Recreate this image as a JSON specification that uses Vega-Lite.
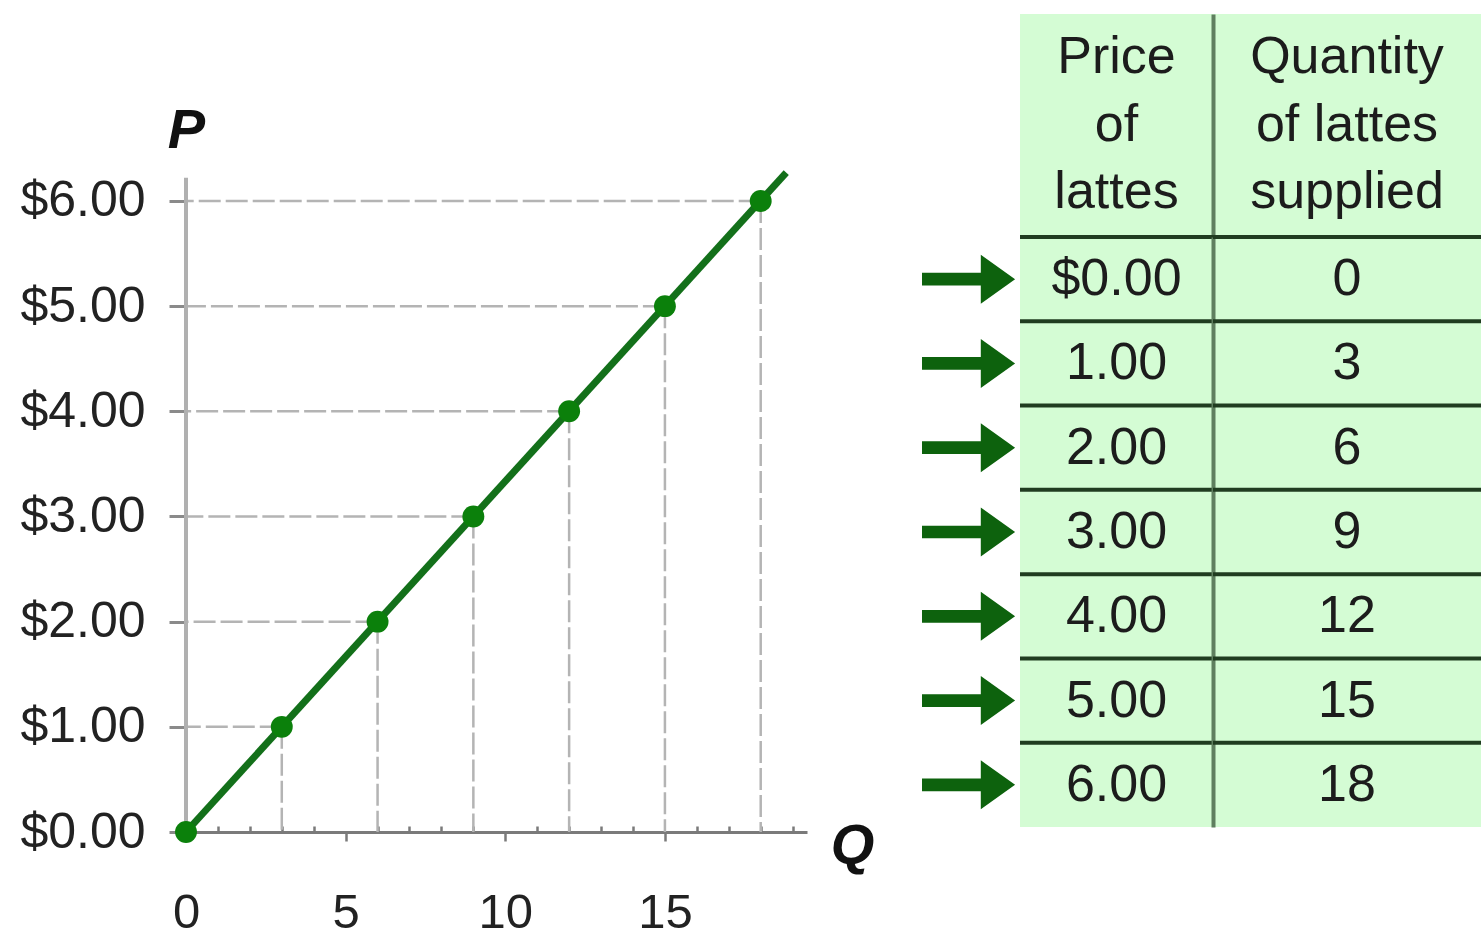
{
  "$schema": "https://vega.github.io/schema/vega-lite/v6.json",
  "padding": {"left": 19, "top": 14, "right": 0, "bottom": 0},
  "background": "white",
  "config": {"view": {"stroke": null}, "font": "Liberation Sans"},
  "datasets": {
    "supply": [
      {"price": 0, "qty": 0, "priceText": "$0.00"},
      {"price": 1, "qty": 3, "priceText": "1.00"},
      {"price": 2, "qty": 6, "priceText": "2.00"},
      {"price": 3, "qty": 9, "priceText": "3.00"},
      {"price": 4, "qty": 12, "priceText": "4.00"},
      {"price": 5, "qty": 15, "priceText": "5.00"},
      {"price": 6, "qty": 18, "priceText": "6.00"}
    ],
    "curve": [
      {"qty": 0, "price": 0},
      {"qty": 18.8, "price": 6.27}
    ],
    "axisTop": [
      {"qty": 0, "price": 6.22}
    ]
  },
  "spacing": 48,
  "hconcat": [
    {
      "width": 621,
      "height": 818,
      "encoding": {
        "x": {
          "field": "qty", "type": "quantitative",
          "scale": {"domain": [0, 19.45], "nice": false, "zero": false},
          "axis": {
            "values": [0, 1, 2, 3, 4, 5, 6, 7, 8, 9, 10, 11, 12, 13, 14, 15, 16, 17, 18, 19],
            "labelExpr": "datum.value % 5 === 0 ? datum.label : ''",
            "grid": false,
            "domain": true, "domainColor": "#7a7a7a", "domainWidth": 3,
            "ticks": true, "tickColor": "#7a7a7a", "tickWidth": 2.5,
            "tickSize": {"condition": {"test": "datum.value % 5 === 0", "value": 9}, "value": -6},
            "labelFont": "Liberation Sans", "labelFontSize": 49, "labelColor": "#222222",
            "labelPadding": 47, "labelFlush": false, "labelOverlap": false,
            "title": "Q", "titleX": 666, "titleY": 13, "titleAlign": "center", "titleBaseline": "middle",
            "titleFont": "Liberation Sans", "titleFontSize": 56, "titleFontStyle": "italic", "titleFontWeight": "bold", "titleColor": "#111111"
          }
        },
        "y": {
          "field": "price", "type": "quantitative",
          "scale": {"domain": [0, 7.778], "nice": false, "zero": false},
          "axis": {
            "values": [0, 1, 2, 3, 4, 5, 6],
            "format": "$.2f",
            "grid": false, "domain": false,
            "tickColor": "#8a8a8a", "tickWidth": 3, "tickSize": 17,
            "labelFont": "Liberation Sans", "labelFontSize": 50, "labelColor": "#222222", "labelPadding": 24,
            "labelOverlap": false,
            "title": "P", "titleAngle": 0, "titleX": 0, "titleY": 116, "titleAlign": "center", "titleBaseline": "middle",
            "titleFont": "Liberation Sans", "titleFontSize": 56, "titleFontStyle": "italic", "titleFontWeight": "bold", "titleColor": "#111111"
          }
        }
      },
      "layer": [
        {
          "data": {"name": "supply"},
          "mark": {"type": "rule", "color": "#b4b4b4", "strokeWidth": 2.5, "strokeDash": [22, 5]},
          "encoding": {"x2": {"datum": 0}}
        },
        {
          "data": {"name": "supply"},
          "mark": {"type": "rule", "color": "#b4b4b4", "strokeWidth": 2.5, "strokeDash": [22, 5]},
          "encoding": {"y2": {"datum": 0}}
        },
        {
          "data": {"name": "axisTop"},
          "mark": {"type": "rule", "color": "#b0b0b0", "strokeWidth": 4},
          "encoding": {"y2": {"datum": 0}}
        },
        {
          "data": {"name": "curve"},
          "mark": {"type": "line", "color": "#13701a", "strokeWidth": 7}
        },
        {
          "data": {"name": "supply"},
          "mark": {"type": "point", "filled": true, "color": "#0b800b", "size": 480, "opacity": 1}
        }
      ]
    },
    {
      "spacing": 0,
      "vconcat": [
        {
          "spacing": 0,
          "bounds": "flush",
          "hconcat": [
            {
              "width": 98, "height": 221,
              "data": {"values": [{}]},
              "mark": {"type": "text", "text": ""}
            },
            {
              "width": 193, "height": 221,
              "data": {"values": [{}]},
              "view": {"fill": "#d4fcd4", "stroke": null},
              "mark": {"type": "text", "text": ["Price", "of", "lattes"], "font": "Liberation Sans", "fontSize": 52, "lineHeight": 67.5, "dy": -67.5, "color": "#1c1c1c", "baseline": "middle", "align": "center"}
            },
            {
              "width": 268, "height": 221,
              "data": {"values": [{}]},
              "view": {"fill": "#d4fcd4", "stroke": null},
              "mark": {"type": "text", "text": ["Quantity", "of lattes", "supplied"], "font": "Liberation Sans", "fontSize": 52, "lineHeight": 67.5, "dy": -67.5, "color": "#1c1c1c", "baseline": "middle", "align": "center"},
              "encoding": {
                "y": {
                  "datum": "header", "type": "nominal",
                  "scale": {"type": "band", "paddingInner": 0, "paddingOuter": 0},
                  "axis": {"orient": "left", "labels": false, "ticks": false, "title": null, "grid": false, "domain": true, "domainColor": "#5f7f5f", "domainWidth": 4, "domainCap": "butt"}
                }
              }
            }
          ]
        },
        {
          "spacing": 0,
          "bounds": "flush",
          "hconcat": [
            {
              "width": 98, "height": 590,
              "data": {"name": "supply"},
              "mark": {"type": "point", "shape": "M-1,-0.13 L0.2,-0.13 L0.2,-0.5 L0.9,0 L0.2,0.5 L0.2,0.13 L-1,0.13 Z", "size": 9604, "filled": true, "color": "#0d620d", "opacity": 1, "strokeWidth": 0},
              "encoding": {
                "y": {"field": "price", "type": "ordinal", "bandPosition": 0.5, "scale": {"type": "band", "paddingInner": 0, "paddingOuter": 0}, "axis": null}
              }
            },
            {
              "width": 193, "height": 590,
              "data": {"name": "supply"},
              "view": {"fill": "#d4fcd4", "stroke": null},
              "layer": [
                {
                  "mark": {"type": "rule", "color": "#203c20", "strokeWidth": 4},
                  "encoding": {
                    "y": {"field": "price", "type": "ordinal", "bandPosition": 0, "scale": {"type": "band", "paddingInner": 0, "paddingOuter": 0}, "axis": null}
                  }
                },
                {
                  "mark": {"type": "text", "font": "Liberation Sans", "fontSize": 52, "color": "#1c1c1c", "baseline": "middle", "align": "center"},
                  "encoding": {
                    "y": {"field": "price", "type": "ordinal", "bandPosition": 0.5, "scale": {"type": "band", "paddingInner": 0, "paddingOuter": 0}, "axis": null},
                    "text": {"field": "priceText", "type": "nominal"}
                  }
                }
              ]
            },
            {
              "width": 268, "height": 590,
              "data": {"name": "supply"},
              "view": {"fill": "#d4fcd4", "stroke": null},
              "layer": [
                {
                  "mark": {"type": "rule", "color": "#203c20", "strokeWidth": 4},
                  "encoding": {
                    "y": {
                      "field": "price", "type": "ordinal", "bandPosition": 0,
                      "scale": {"type": "band", "paddingInner": 0, "paddingOuter": 0},
                      "axis": {"orient": "left", "labels": false, "ticks": false, "title": null, "grid": false, "domain": true, "domainColor": "#5f7f5f", "domainWidth": 4, "domainCap": "butt"}
                    }
                  }
                },
                {
                  "mark": {"type": "text", "font": "Liberation Sans", "fontSize": 52, "color": "#1c1c1c", "baseline": "middle", "align": "center"},
                  "encoding": {
                    "y": {
                      "field": "price", "type": "ordinal", "bandPosition": 0.5,
                      "scale": {"type": "band", "paddingInner": 0, "paddingOuter": 0},
                      "axis": {"orient": "left", "labels": false, "ticks": false, "title": null, "grid": false, "domain": true, "domainColor": "#5f7f5f", "domainWidth": 4, "domainCap": "butt"}
                    },
                    "text": {"field": "qty", "type": "quantitative"}
                  }
                }
              ]
            }
          ]
        }
      ]
    }
  ]
}
